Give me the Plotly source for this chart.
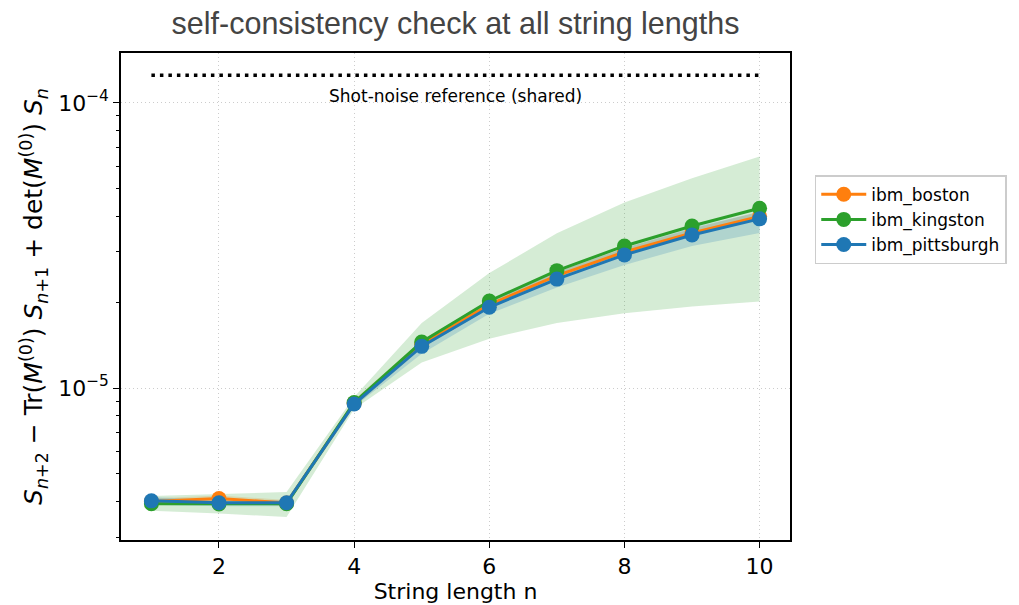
import math
import plotly.graph_objects as go

n = [1, 2, 3, 4, 5, 6, 7, 8, 9, 10]

boston = [4.0e-6, 4.1e-6, 3.95e-6, 8.85e-6, 1.42e-5, 1.96e-5, 2.48e-5, 3.0e-5, 3.5e-5, 4.0e-5]
boston_lo = [3.9e-6, 4.0e-6, 3.85e-6, 8.6e-6, 1.38e-5, 1.9e-5, 2.42e-5, 2.93e-5, 3.42e-5, 3.9e-5]
boston_hi = [4.1e-6, 4.2e-6, 4.05e-6, 9.1e-6, 1.47e-5, 2.03e-5, 2.56e-5, 3.1e-5, 3.62e-5, 4.15e-5]

kingston = [3.93e-6, 3.92e-6, 3.93e-6, 8.9e-6, 1.45e-5, 2.02e-5, 2.58e-5, 3.15e-5, 3.70e-5, 4.27e-5]
kingston_lo = [3.71e-6, 3.63e-6, 3.53e-6, 8.45e-6, 1.23e-5, 1.49e-5, 1.69e-5, 1.83e-5, 1.93e-5, 2.01e-5]
kingston_hi = [4.18e-6, 4.25e-6, 4.32e-6, 9.3e-6, 1.69e-5, 2.53e-5, 3.49e-5, 4.47e-5, 5.44e-5, 6.48e-5]

pittsburgh = [4.02e-6, 3.96e-6, 3.96e-6, 8.79e-6, 1.40e-5, 1.92e-5, 2.41e-5, 2.93e-5, 3.44e-5, 3.92e-5]
pittsburgh_lo = [3.9e-6, 3.85e-6, 3.85e-6, 8.6e-6, 1.32e-5, 1.82e-5, 2.25e-5, 2.7e-5, 3.15e-5, 3.5e-5]
pittsburgh_hi = [4.15e-6, 4.05e-6, 4.05e-6, 9.0e-6, 1.46e-5, 2.02e-5, 2.55e-5, 3.1e-5, 3.65e-5, 4.15e-5]

shot_noise = 1.25e-4
shot_x = [1, 10]

y_major = [1e-5, 1e-4]
y_major_text = ["10<sup>−5</sup>", "10<sup>−4</sup>"]
y_minor = [3e-6, 4e-6, 5e-6, 6e-6, 7e-6, 8e-6, 9e-6,
           2e-5, 3e-5, 4e-5, 5e-5, 6e-5, 7e-5, 8e-5, 9e-5]
x_ticks = [2, 4, 6, 8, 10]

series = [
    ("ibm_boston", boston, boston_lo, boston_hi, "#ff7f0e", "rgba(255,127,14,0.2)"),
    ("ibm_kingston", kingston, kingston_lo, kingston_hi, "#2ca02c", "rgba(44,160,44,0.2)"),
    ("ibm_pittsburgh", pittsburgh, pittsburgh_lo, pittsburgh_hi, "#1f77b4", "rgba(31,119,180,0.2)"),
]

fig = go.Figure()

for name, y, lo, hi, col, fill in series:
    fig.add_trace(go.Scatter(x=n, y=lo, mode="lines", line=dict(width=0), showlegend=False, hoverinfo="skip"))
    fig.add_trace(go.Scatter(x=n, y=hi, mode="lines", line=dict(width=0), fill="tonexty",
                             fillcolor=fill, showlegend=False, hoverinfo="skip"))

for name, y, lo, hi, col, fill in series:
    fig.add_trace(go.Scatter(x=n, y=y, mode="lines+markers", name=name,
                             line=dict(color=col, width=3),
                             marker=dict(color=col, size=15)))

fig.add_trace(go.Scatter(x=shot_x, y=[shot_noise, shot_noise], mode="lines",
                         line=dict(color="black", width=3.5, dash="3.5px,5px"), showlegend=False))

fig.add_annotation(x=5.5, y=math.log10(shot_noise), yref="y", xref="x",
                   text="Shot-noise reference (shared)",
                   showarrow=False, yshift=-21,
                   font=dict(family="DejaVu Sans", size=17, color="black"))

tick_font = dict(family="DejaVu Sans", size=22, color="black")

axis_common = dict(showline=True, linecolor="black", linewidth=1.5, mirror=True,
                   ticks="outside", ticklen=6, tickwidth=1.3, tickcolor="black",
                   showgrid=True, gridcolor="#cccccc", griddash="1px,3px", gridwidth=1.2,
                   zeroline=False)

fig.update_layout(
    width=1019, height=605,
    paper_bgcolor="white", plot_bgcolor="white",
    font=dict(family="DejaVu Sans", size=17, color="black"),
    margin=dict(l=113, r=237, t=45, b=73),
    title=dict(text="self-consistency check at all string lengths", x=0.5, xref="paper",
               y=0.974, yref="container", yanchor="middle",
               font=dict(family="Liberation Sans", size=30.5, color="#444444")),
    xaxis=dict(range=[0.55, 10.45], tickvals=x_ticks, tickfont=tick_font,
               title=dict(text="String length n", standoff=4,
                          font=dict(family="DejaVu Sans", size=22, color="black")),
               **axis_common),
    yaxis=dict(type="log", range=[-5.533, -3.825], tickvals=y_major,
               ticktext=y_major_text, tickfont=tick_font,
               minor=dict(tickvals=y_minor, ticks="outside", ticklen=3.5, tickcolor="black",
                          tickwidth=1, showgrid=False),
               title=dict(text="<i>S</i><sub><i>n</i>+2</sub> − Tr(<i>M</i><sup>(0)</sup>) <i>S</i><sub><i>n</i>+1</sub> + det(<i>M</i><sup>(0)</sup>) <i>S</i><sub><i>n</i></sub>",
                          standoff=8,
                          font=dict(family="DejaVu Sans", size=25, color="black")),
               **axis_common),
    legend=dict(x=1.037, y=0.749, xanchor="left", yanchor="top", traceorder="normal",
                bordercolor="#cccccc", borderwidth=1.5, bgcolor="white",
                font=dict(family="DejaVu Sans", size=17, color="black"),
                itemwidth=45, tracegroupgap=2),
)

fig.write_html("out.html")
